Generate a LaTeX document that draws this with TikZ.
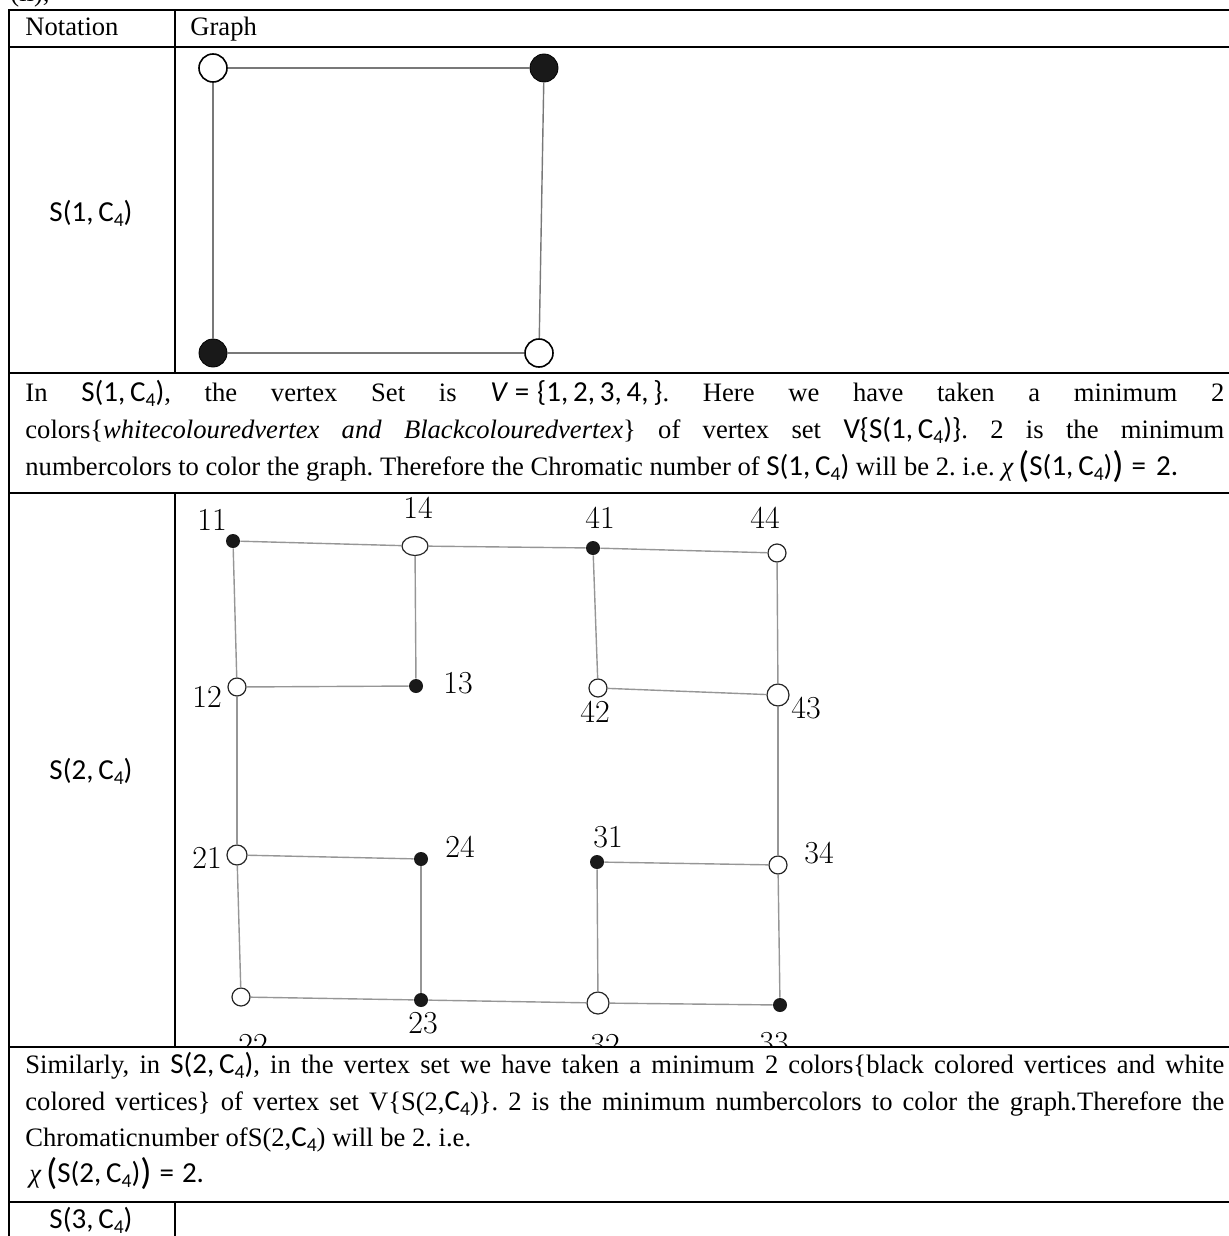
\documentclass[tikz,border=0pt]{standalone}
\usepackage{fontspec}
\setmainfont{Liberation Serif}
\newfontfamily\mfont{Carlito}
\usepackage{tikz}
\usetikzlibrary{shapes.geometric}
\definecolor{edgegray}{RGB}{120,120,120}
\definecolor{edgelight}{RGB}{150,150,150}
\frenchspacing
\newcommand{\four}{\raisebox{-2.5pt}{\fontsize{9.8}{9.8}\selectfont 4}}
\newcommand{\SC}[1]{{\mfont\fontsize{14.5}{18.5}\selectfont S(#1,\,C\four)}}
\newcommand{\bigp}[1]{{\mfont\fontsize{18.5}{18.5}\selectfont\raisebox{-1pt}{#1}}}
\newcommand{\msf}[1]{{\mfont\fontsize{14.5}{18.5}\selectfont #1}}

\begin{document}
\begin{tikzpicture}[x=0.5pt, y=-0.5pt,
    rule/.style={line width=1pt, line cap=rect},
    edge/.style={draw=edgegray, line width=0.7pt},
    edgetwo/.style={draw=edgelight, line width=0.7pt},
    bigwhite/.style={circle, draw=black, line width=0.8pt, fill=white, minimum size=14pt, inner sep=0pt},
    bigblack/.style={circle, draw=black, fill=black!90, minimum size=14pt, inner sep=0pt},
    wdot/.style={circle, draw=black!85, line width=0.6pt, fill=white, minimum size=9pt, inner sep=0pt},
    bdot/.style={circle, fill=black!90, minimum size=7pt, inner sep=0pt},
    vlabel/.style={font=\fontfamily{lmr}\fontsize{16}{16}\selectfont, inner sep=0pt},
    body/.style={font=\fontsize{13.3}{18.5}\selectfont, anchor=base west, inner sep=0pt},
    notation/.style={font=\fontsize{14}{14}\selectfont, inner sep=0pt}
]
\useasboundingbox (0,0) rectangle (1229,1236);

\node[body] (cut) at (10,2) {(ii),};

% table rules
\draw[rule] (9,10) -- (1240,10);
\draw[rule] (9,47) -- (1240,47);
\draw[rule] (9,373) -- (1240,373);
\draw[rule] (9,493) -- (1240,493);
\draw[rule] (9,1047) -- (1240,1047);
\draw[rule] (9,1202) -- (1240,1202);
\draw[rule] (9,10) -- (9,1240);
\draw[rule] (175,10) -- (175,373);
\draw[rule] (175,493) -- (175,1047);
\draw[rule] (175,1202) -- (175,1240);

\node[body] (hnot) at (25,36) {Notation};
\node[body] (hgraph) at (190,36) {Graph};

% S(1,C4)
\node[notation] (n1) at (91,213) {\SC{1}};
\node[bigwhite] (a1) at (213,68) {};
\node[bigblack] (a2) at (544,68) {};
\node[bigwhite] (a3) at (539,353) {};
\node[bigblack] (a4) at (213,353) {};
\draw[edge] (a1) -- (a2);
\draw[edge] (a2) -- (a3);
\draw[edge] (a3) -- (a4);
\draw[edge] (a4) -- (a1);

\node[body] (p1a) at (25,401) {\makebox[599.5pt][s]{In \SC{1}, the vertex Set is {\mfont\fontsize{14.5}{18.5}\selectfont\itshape V}\kern4pt\msf{=\kern4pt\{1,\,2,\,3,\,4,\,\}}. Here we have taken a minimum 2}};
\node[body] (p1b) at (25,438) {\makebox[599.5pt][s]{colors\{\textit{whitecolouredvertex and Blackcolouredvertex}\} of vertex set \msf{V\{}\SC{1}\msf{\}}. 2 is the minimum}};
\node[body] (p1c) at (25,475) {numbercolors to color the graph. Therefore the Chromatic number of \SC{1} will be 2. i.e. \textit{χ}\,\bigp{(}\SC{1}\bigp{)}\kern4pt\msf{=\kern5pt2.}};

% S(2,C4)
\node[notation] (n2) at (91,771) {\SC{2}};
\begin{scope}
\clip (175,493) rectangle (1240,1047);
\node[bdot] (v11) at (233,541) {};
\node[wdot, ellipse, minimum width=13pt, minimum height=9.5pt] (v14) at (415,546) {};
\node[bdot] (v41) at (593,548) {};
\node[wdot] (v44) at (777,553) {};
\node[wdot] (v12) at (237,687) {};
\node[bdot] (v13) at (416,686) {};
\node[wdot] (v42) at (598,688) {};
\node[wdot, minimum size=11pt] (v43) at (778,695) {};
\node[wdot, minimum size=10pt] (v21) at (237,855) {};
\node[bdot] (v24) at (421,859) {};
\node[bdot] (v31) at (597,862) {};
\node[wdot] (v34) at (778,865) {};
\node[wdot] (v22) at (241,997) {};
\node[bdot] (v23) at (421,1000) {};
\node[wdot, minimum size=11pt] (v32) at (598,1003) {};
\node[bdot] (v33) at (780,1005) {};

\draw[edgetwo] (v11) -- (v14);
\draw[edgetwo] (v14) -- (v41);
\draw[edgetwo] (v41) -- (v44);
\draw[edgetwo] (v11) -- (v12);
\draw[edgetwo] (v14) -- (v13);
\draw[edgetwo] (v12) -- (v13);
\draw[edgetwo] (v41) -- (v42);
\draw[edgetwo] (v42) -- (v43);
\draw[edgetwo] (v44) -- (v43);
\draw[edgetwo] (v12) -- (v21);
\draw[edgetwo] (v43) -- (v34);
\draw[edgetwo] (v21) -- (v24);
\draw[edgetwo] (v24) -- (v23);
\draw[edgetwo] (v21) -- (v22);
\draw[edgetwo] (v22) -- (v23);
\draw[edgetwo] (v23) -- (v32);
\draw[edgetwo] (v31) -- (v32);
\draw[edgetwo] (v31) -- (v34);
\draw[edgetwo] (v34) -- (v33);
\draw[edgetwo] (v32) -- (v33);

\node[vlabel] (l11) at (212,520) {11};
\node[vlabel] (l14) at (418,508) {14};
\node[vlabel] (l41) at (600,518) {41};
\node[vlabel] (l44) at (765,518) {44};
\node[vlabel] (l12) at (207,697) {12};
\node[vlabel] (l13) at (458,683) {13};
\node[vlabel] (l42) at (595,712) {42};
\node[vlabel] (l43) at (806,708) {43};
\node[vlabel] (l21) at (207,858) {21};
\node[vlabel] (l24) at (460,847) {24};
\node[vlabel] (l31) at (608,837) {31};
\node[vlabel] (l34) at (819,853) {34};
\node[vlabel] (l22) at (253,1045) {22};
\node[vlabel] (l23) at (423,1023) {23};
\node[vlabel] (l32) at (605,1045) {32};
\node[vlabel] (l33) at (774,1043) {33};
\end{scope}

\node[body] (p2a) at (25,1073) {\makebox[599.5pt][s]{Similarly, in \SC{2}, in the vertex set we have taken a minimum 2 colors\{black colored vertices and white}};
\node[body] (p2b) at (25,1110) {\makebox[599.5pt][s]{colored vertices\} of vertex set V\{S(2,\msf{C\four})\}. 2 is the minimum numbercolors to color the graph.Therefore the}};
\node[body] (p2c) at (25,1146) {Chromaticnumber ofS(2,\msf{C\four}) will be 2. i.e.};
\node[body] (p2d) at (29,1182) {\textit{χ}\,\bigp{(}\SC{2}\bigp{)}\kern4pt\msf{=\kern4pt2.}};

% S(3,C4)
\node[notation] (n3) at (91,1220) {\SC{3}};
\end{tikzpicture}
\end{document}
